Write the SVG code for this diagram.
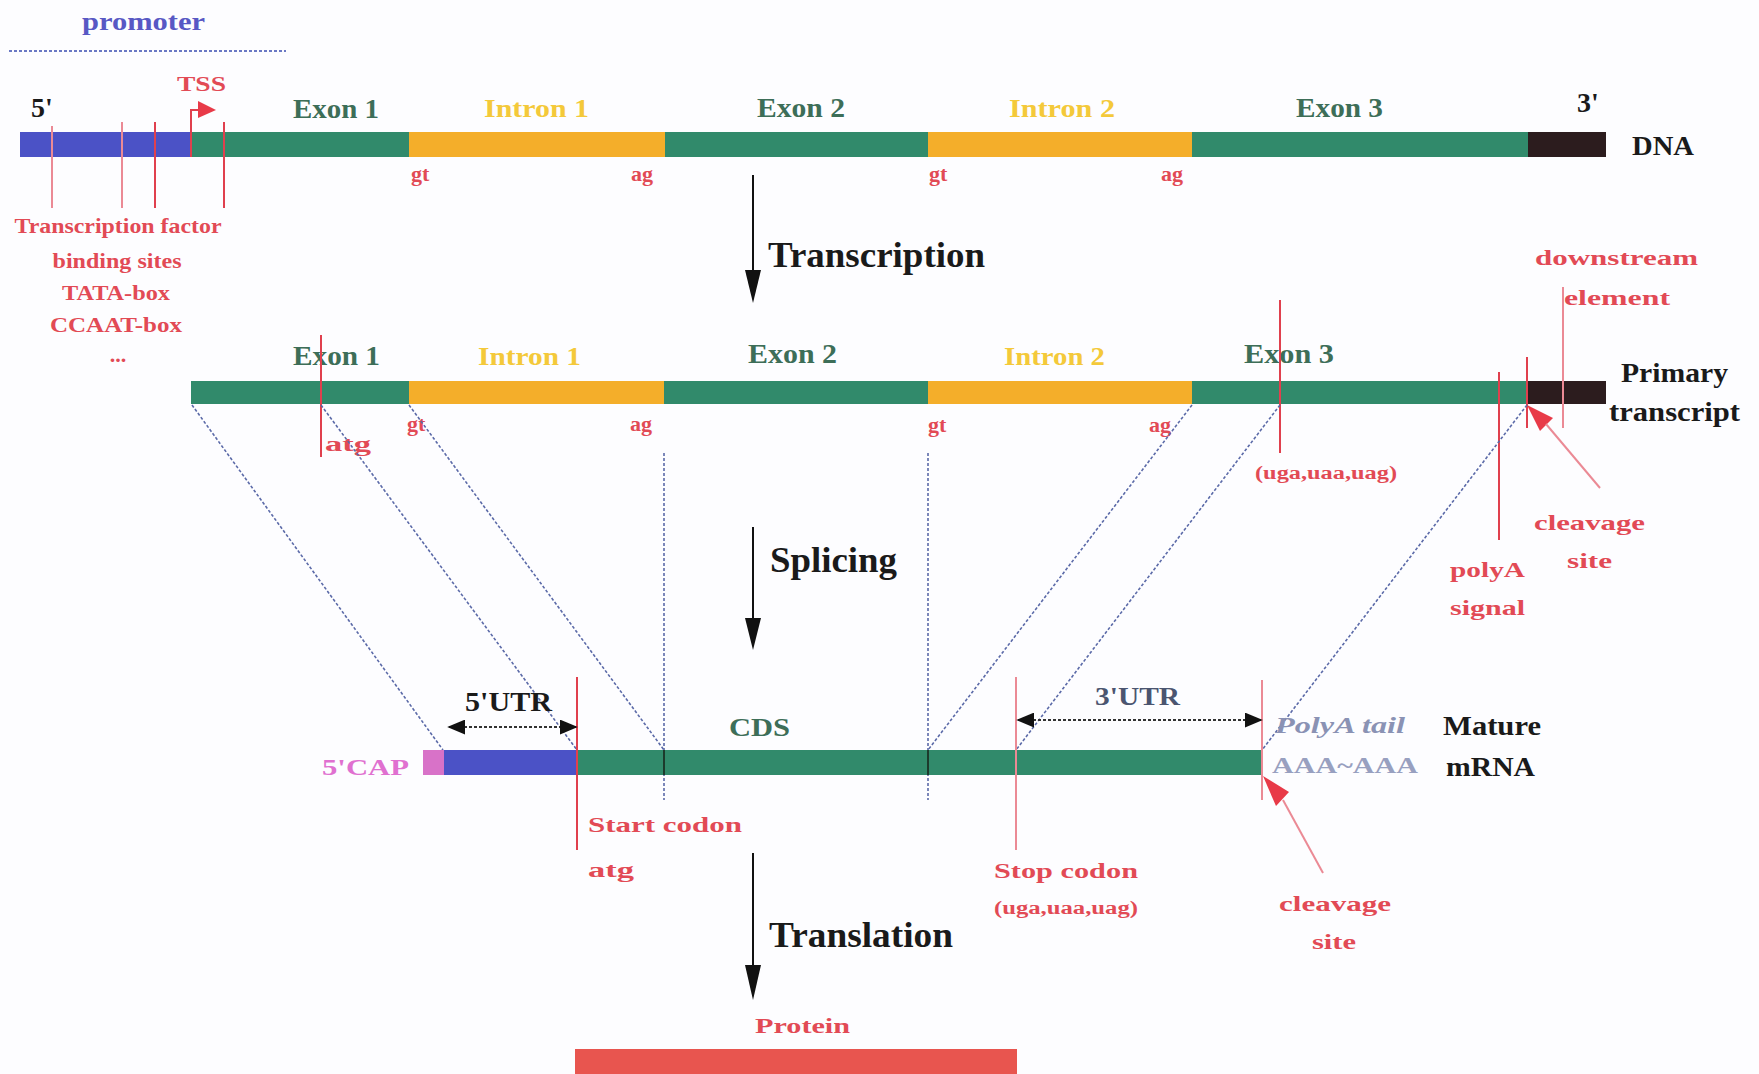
<svg xmlns="http://www.w3.org/2000/svg" width="1759" height="1074" viewBox="0 0 1759 1074">
<defs>
<style>
text{font-family:"Liberation Serif","Times New Roman",serif;font-weight:bold}
.exon{fill:#3d6e58;font-size:27px}
.intron{fill:#f4c93a;font-size:25px}
.red{fill:#e24a55;font-size:22px}
.redsm{fill:#e24a55;font-size:18px}
.blk{fill:#1a1a1a;font-size:28px}
.big{fill:#1a1a1a;font-size:36px}
.rl{stroke:#e0404e;stroke-width:2;fill:none}
.rlp{stroke:#eb8a95;stroke-width:2;fill:none}
.dot{stroke:#5b6aa8;stroke-width:1.6;stroke-dasharray:3 2;fill:none}
.g{fill:#318a6b}.o{fill:#f4ae2a}.b{fill:#4b52c6}.k{fill:#2c1c1e}
</style>
<marker id="ah" viewBox="0 0 10 10" refX="9" refY="5" markerWidth="18" markerHeight="15" orient="auto-start-reverse" markerUnits="userSpaceOnUse" preserveAspectRatio="none">
<path d="M0,0 L10,5 L0,10 z" fill="#111"/>
</marker>
</defs>
<rect width="1759" height="1074" fill="#fdfdff"/>

<g id="promoter">
<text x="82" y="30" font-size="26" fill="#5858c4" textLength="123" lengthAdjust="spacingAndGlyphs">promoter</text>
<line x1="9" y1="51" x2="286" y2="51" stroke="#6a78c4" stroke-width="2" stroke-dasharray="3 2"/>
</g>

<g id="dna">
<text x="31" y="117" class="blk" font-size="27">5'</text>
<rect x="20" y="132" width="171" height="25" class="b"/>
<rect x="191" y="132" width="218" height="25" class="g"/>
<rect x="409" y="132" width="256" height="25" class="o"/>
<rect x="665" y="132" width="263" height="25" class="g"/>
<rect x="928" y="132" width="264" height="25" class="o"/>
<rect x="1192" y="132" width="336" height="25" class="g"/>
<rect x="1528" y="132" width="78" height="25" class="k"/>
<text x="293" y="118" class="exon" textLength="86" lengthAdjust="spacingAndGlyphs">Exon 1</text>
<text x="484" y="117" class="intron" textLength="105" lengthAdjust="spacingAndGlyphs">Intron 1</text>
<text x="757" y="117" class="exon" textLength="88" lengthAdjust="spacingAndGlyphs">Exon 2</text>
<text x="1009" y="117" class="intron" textLength="106" lengthAdjust="spacingAndGlyphs">Intron 2</text>
<text x="1296" y="117" class="exon" textLength="87" lengthAdjust="spacingAndGlyphs">Exon 3</text>
<text x="1577" y="112" class="blk" font-size="26">3'</text>
<text x="1632" y="155" class="blk" textLength="62" lengthAdjust="spacingAndGlyphs">DNA</text>
<text x="411" y="181" class="red">gt</text>
<text x="631" y="181" class="red">ag</text>
<text x="929" y="181" class="red">gt</text>
<text x="1161" y="181" class="red">ag</text>
</g>

<g id="tss">
<text x="177" y="91" class="red" textLength="49" lengthAdjust="spacingAndGlyphs">TSS</text>
<polyline points="191,157 191,110 200,110" class="rl"/>
<polygon points="198,101 216,110 198,118" fill="#e83a48"/>
</g>

<g id="promoter-elements">
<line x1="52" y1="126" x2="52" y2="208" class="rlp"/>
<line x1="122" y1="122" x2="122" y2="208" class="rlp"/>
<line x1="155" y1="122" x2="155" y2="208" class="rl"/>
<line x1="224" y1="122" x2="224" y2="208" class="rl"/>
<g class="red" text-anchor="middle">
<text x="118" y="233" textLength="207" lengthAdjust="spacingAndGlyphs">Transcription factor</text>
<text x="117" y="268" textLength="129" lengthAdjust="spacingAndGlyphs">binding sites</text>
<text x="116" y="300" textLength="108" lengthAdjust="spacingAndGlyphs">TATA-box</text>
<text x="116" y="332" textLength="132" lengthAdjust="spacingAndGlyphs">CCAAT-box</text>
<text x="118" y="362">...</text>
</g>
</g>

<g id="transcription">
<line x1="753" y1="175" x2="753" y2="272" stroke="#111" stroke-width="2"/>
<polygon points="745,270 761,270 753,303" fill="#111"/>
<text x="768" y="267" class="big" textLength="217" lengthAdjust="spacingAndGlyphs">Transcription</text>
</g>

<g id="primary-transcript">
<rect x="191" y="381" width="218" height="23" class="g"/>
<rect x="409" y="381" width="255" height="23" class="o"/>
<rect x="664" y="381" width="264" height="23" class="g"/>
<rect x="928" y="381" width="264" height="23" class="o"/>
<rect x="1192" y="381" width="335" height="23" class="g"/>
<rect x="1527" y="381" width="79" height="23" class="k"/>
<text x="293" y="365" class="exon" textLength="87" lengthAdjust="spacingAndGlyphs">Exon 1</text>
<text x="478" y="365" class="intron" textLength="103" lengthAdjust="spacingAndGlyphs">Intron 1</text>
<text x="748" y="363" class="exon" textLength="89" lengthAdjust="spacingAndGlyphs">Exon 2</text>
<text x="1004" y="365" class="intron" textLength="101" lengthAdjust="spacingAndGlyphs">Intron 2</text>
<text x="1244" y="363" class="exon" textLength="90" lengthAdjust="spacingAndGlyphs">Exon 3</text>
<text x="1621" y="382" class="blk" textLength="107" lengthAdjust="spacingAndGlyphs">Primary</text>
<text x="1609" y="421" class="blk" textLength="131" lengthAdjust="spacingAndGlyphs">transcript</text>
<line x1="321" y1="335" x2="321" y2="457" class="rl"/>
<text x="325" y="451" class="red" textLength="46" lengthAdjust="spacingAndGlyphs">atg</text>
<text x="407" y="431" class="red">gt</text>
<text x="630" y="431" class="red">ag</text>
<text x="928" y="432" class="red">gt</text>
<text x="1149" y="432" class="red">ag</text>
<line x1="1280" y1="300" x2="1280" y2="453" class="rl"/>
<text x="1255" y="479" class="redsm" textLength="142" lengthAdjust="spacingAndGlyphs">(uga,uaa,uag)</text>
<line x1="1563" y1="287" x2="1563" y2="428" class="rlp"/>
<text x="1535" y="265" class="red" textLength="163" lengthAdjust="spacingAndGlyphs">downstream</text>
<text x="1564" y="305" class="red" textLength="106" lengthAdjust="spacingAndGlyphs">element</text>
<line x1="1527" y1="357" x2="1527" y2="428" class="rl"/>
<line x1="1499" y1="372" x2="1499" y2="540" class="rl"/>
<polygon points="1527,405 1553,418 1540,431" fill="#e83a48"/>
<line x1="1546" y1="424" x2="1600" y2="488" class="rlp"/>
<text x="1534" y="530" class="red" textLength="111" lengthAdjust="spacingAndGlyphs">cleavage</text>
<text x="1567" y="568" class="red" textLength="45" lengthAdjust="spacingAndGlyphs">site</text>
<text x="1450" y="577" class="red" textLength="75" lengthAdjust="spacingAndGlyphs">polyA</text>
<text x="1450" y="615" class="red" textLength="75" lengthAdjust="spacingAndGlyphs">signal</text>
</g>

<g id="connectors">
<line x1="192" y1="405" x2="443" y2="750" class="dot"/>
<line x1="321" y1="405" x2="577" y2="750" class="dot"/>
<line x1="409" y1="405" x2="664" y2="750" class="dot"/>
<line x1="664" y1="453" x2="664" y2="800" class="dot"/>
<line x1="928" y1="453" x2="928" y2="800" class="dot"/>
<line x1="1192" y1="405" x2="928" y2="750" class="dot"/>
<line x1="1280" y1="405" x2="1016" y2="750" class="dot"/>
<line x1="1527" y1="405" x2="1262" y2="750" class="dot"/>
</g>

<g id="splicing">
<line x1="753" y1="527" x2="753" y2="620" stroke="#111" stroke-width="2"/>
<polygon points="745,618 761,618 753,650" fill="#111"/>
<text x="770" y="572" class="big" textLength="127" lengthAdjust="spacingAndGlyphs">Splicing</text>
</g>

<g id="mature-mrna">
<rect x="423" y="750" width="21" height="25" fill="#d872c8"/>
<rect x="444" y="750" width="133" height="25" class="b"/>
<rect x="577" y="750" width="685" height="25" class="g"/>
<line x1="664" y1="750" x2="664" y2="775" stroke="#1c3a2c" stroke-width="2"/>
<line x1="928" y1="750" x2="928" y2="775" stroke="#1c3a2c" stroke-width="2"/>
<text x="322" y="775" font-size="24" fill="#e070d0" textLength="87" lengthAdjust="spacingAndGlyphs">5'CAP</text>
<line x1="577" y1="677" x2="577" y2="850" class="rl"/>
<line x1="1016" y1="677" x2="1016" y2="850" class="rlp"/>
<line x1="1262" y1="680" x2="1262" y2="800" class="rlp"/>
<line x1="449" y1="727" x2="576" y2="727" stroke="#333" stroke-width="2" stroke-dasharray="3 2" marker-start="url(#ah)" marker-end="url(#ah)"/>
<text x="465" y="711" class="blk" textLength="87" lengthAdjust="spacingAndGlyphs">5'UTR</text>
<line x1="1018" y1="720" x2="1261" y2="720" stroke="#333" stroke-width="2" stroke-dasharray="3 2" marker-start="url(#ah)" marker-end="url(#ah)"/>
<text x="1095" y="705" font-size="26" fill="#4b5570" textLength="85" lengthAdjust="spacingAndGlyphs">3'UTR</text>
<text x="729" y="736" font-size="26" fill="#3d6e58" textLength="61" lengthAdjust="spacingAndGlyphs">CDS</text>
<text x="1275" y="733" font-size="24" fill="#8a92b4" font-style="italic" textLength="130" lengthAdjust="spacingAndGlyphs">PolyA tail</text>
<text x="1272" y="773" font-size="24" fill="#98a0c0" font-weight="normal" textLength="146" lengthAdjust="spacingAndGlyphs">AAA~AAA</text>
<text x="1443" y="735" class="blk" textLength="98" lengthAdjust="spacingAndGlyphs">Mature</text>
<text x="1446" y="776" class="blk" textLength="89" lengthAdjust="spacingAndGlyphs">mRNA</text>
<polygon points="1263,776 1289,792 1276,806" fill="#e83a48"/>
<line x1="1283" y1="800" x2="1323" y2="873" class="rlp"/>
<text x="1279" y="911" class="red" textLength="112" lengthAdjust="spacingAndGlyphs">cleavage</text>
<text x="1312" y="949" class="red" textLength="44" lengthAdjust="spacingAndGlyphs">site</text>
<text x="588" y="832" class="red" textLength="154" lengthAdjust="spacingAndGlyphs">Start codon</text>
<text x="588" y="877" class="red" textLength="46" lengthAdjust="spacingAndGlyphs">atg</text>
<text x="994" y="878" class="red" textLength="144" lengthAdjust="spacingAndGlyphs">Stop codon</text>
<text x="994" y="914" class="redsm" textLength="144" lengthAdjust="spacingAndGlyphs">(uga,uaa,uag)</text>
</g>

<g id="translation">
<line x1="753" y1="853" x2="753" y2="968" stroke="#111" stroke-width="2"/>
<polygon points="745,965 761,965 753,1000" fill="#111"/>
<text x="769" y="947" class="big" textLength="184" lengthAdjust="spacingAndGlyphs">Translation</text>
</g>

<g id="protein">
<text x="755" y="1033" class="red" font-size="24" textLength="95" lengthAdjust="spacingAndGlyphs">Protein</text>
<rect x="575" y="1049" width="442" height="25" fill="#e8554f"/>
</g>
</svg>
